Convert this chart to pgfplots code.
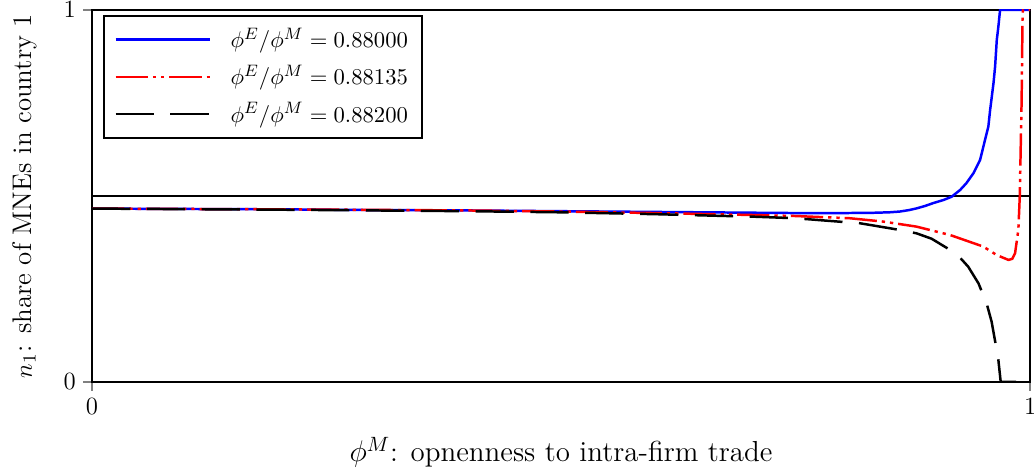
\documentclass[border=0pt]{standalone}
\usepackage{pgfplots}
\pgfplotsset{compat=1.18}
\begin{document}
\begin{tikzpicture}
\begin{axis}[
  scale only axis=true,
  width=453.6pt, height=179.9pt,
  xmin=0, xmax=1, ymin=0, ymax=1,
  xtick={0,1}, ytick={0,1},
  xtick pos=left, ytick pos=left,
  tick align=outside,
  tick label style={font=\fontsize{11.5}{14}\selectfont},
  axis line style={line width=1pt},
  major tick style={line width=0.8pt},
  xlabel={$\phi^M$: opnenness to intra-firm trade},
  ylabel={$n_1$: share of MNEs in country 1},
  xlabel style={at={(axis description cs:0.5,-0.215)}, anchor=base, font=\fontsize{14}{17}\selectfont},
  ylabel style={at={(axis description cs:-0.064,0.5)}, anchor=base, font=\fontsize{13}{15}\selectfont},
  legend style={at={(0.0117,0.9866)}, anchor=north west, draw=black, line width=1pt, font=\fontsize{11}{13}\selectfont, cells={anchor=west}, inner xsep=5pt, inner ysep=4pt, row sep=3pt,
    /tikz/every odd column/.append style={column sep=7.5pt}},
  legend image code/.code={\draw[#1] plot coordinates {(0cm,0cm) (1.6cm,0cm)};},
]
\coordinate (bl) at (rel axis cs:0,0);
\coordinate (tr) at (rel axis cs:1,1);
\addplot[black, line width=0.8pt, forget plot] coordinates {(0,0.5) (1,0.5)};
\addplot[blue, line width=1.2pt] coordinates {
(0,0.466)(0.1,0.465)(0.2,0.464)(0.3,0.462)(0.4,0.461)(0.5,0.459)(0.6,0.457)(0.7,0.455)(0.75,0.454)(0.8,0.454)(0.83,0.4545)(0.85,0.456)(0.861,0.458)(0.871,0.462)(0.879,0.4665)(0.888,0.473)(0.897,0.481)(0.9076,0.489)(0.9165,0.498)(0.9254,0.516)(0.932,0.534)(0.9396,0.561)(0.9467,0.597)(0.9502,0.6325)(0.9555,0.686)(0.9574,0.731)(0.961,0.803)(0.9627,0.8476)(0.9645,0.919)(0.9662,0.955)(0.968,1.0)(1,1)};
\addlegendentry{$\phi^E/\phi^M=0.88000$\hspace{9pt}}
\addplot[red, line width=1.2pt, dash pattern=on 15.6pt off 2.4pt on 1.6pt off 2.4pt on 1.6pt off 2.4pt] coordinates {
(0,0.466)(0.2,0.464)(0.4,0.461)(0.5,0.458)(0.6,0.454)(0.7,0.449)(0.75,0.446)(0.808,0.44)(0.8436,0.431)(0.879,0.4175)(0.9147,0.395)(0.95,0.364)(0.9645,0.341)(0.977,0.328)(0.981,0.331)(0.984,0.346)(0.9875,0.409)(0.989,0.498)(0.991,0.758)(0.992,0.991)(0.9925,1)(1,1)};
\addlegendentry{$\phi^E/\phi^M=0.88135$\hspace{9pt}}
\addplot[black, line width=1.2pt, dash pattern=on 18.5pt off 8pt] coordinates {
(0,0.466)(0.2,0.463)(0.4,0.459)(0.5,0.456)(0.6,0.451)(0.708,0.444)(0.75,0.44)(0.8188,0.4265)(0.8578,0.41)(0.879,0.3995)(0.895,0.385)(0.9147,0.355)(0.925,0.335)(0.934,0.31)(0.945,0.265)(0.9537,0.211)(0.959,0.162)(0.966,0.0635)(0.9687,0)(1,0)};
\addlegendentry{$\phi^E/\phi^M=0.88200$\hspace{9pt}}
\end{axis}
\pgfresetboundingbox
\useasboundingbox ([shift={(-44.5pt,-42.2pt)}]bl) rectangle ([shift={(1.9pt,4.8pt)}]tr);
\end{tikzpicture}
\end{document}
